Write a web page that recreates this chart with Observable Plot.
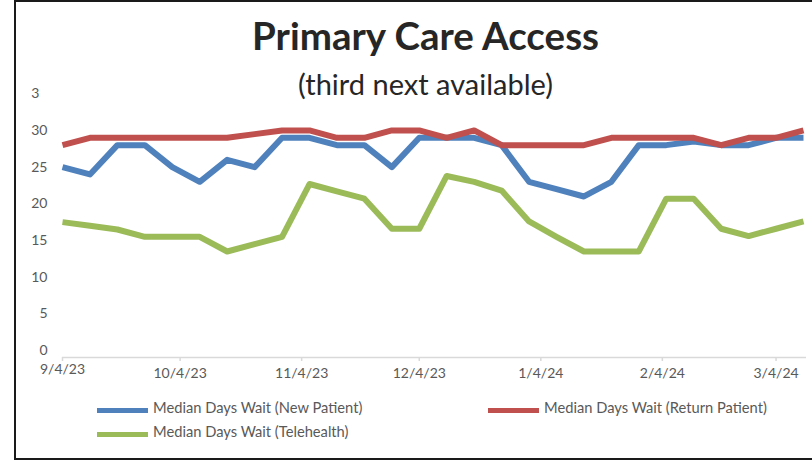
<!DOCTYPE html>
<html>
<head>
<meta charset="utf-8">
<script src="https://cdn.jsdelivr.net/npm/d3@7"></script>
<script src="https://cdn.jsdelivr.net/npm/@observablehq/plot@0.6"></script>
<style>
  html, body { margin: 0; padding: 0; background: #fff; }
  #wrap { position: relative; width: 812px; height: 461px; overflow: hidden; font-family: Lato, "Open Sans", sans-serif; }
  #border { position: absolute; left: 14px; top: 0px; width: 830px; height: 456px; border: 2px solid #1a1a1a; box-sizing: content-box; }
  #chart { position: absolute; left: 0; top: 0; }
  #titlebox { position: absolute; left: 39px; top: 3px; width: 773px; height: 103px; background: #fff; text-align: center; }
  #title { position: absolute; left: 0; right: 0; top: 13px; font-size: 38.5px; font-weight: 700; color: #262626; line-height: 1; }
  #subtitle { position: absolute; left: 0; right: 0; top: 66px; font-size: 29px; color: #262626; line-height: 1; }
  .leg { position: absolute; font-size: 14.7px; color: #595959; line-height: 1; white-space: nowrap; }
  .sw { position: absolute; width: 51px; height: 5px; }
</style>
</head>
<body>
<div id="wrap">
  <div id="border"></div>
  <div id="chart"></div>
  <div id="titlebox">
    <div id="title">Primary Care Access</div>
    <div id="subtitle">(third next available)</div>
  </div>
  <div id="legend"></div>
</div>
<script>
// ---- data ----
const dates = ["2023-09-04","2023-09-11","2023-09-18","2023-09-25","2023-10-02","2023-10-09","2023-10-16","2023-10-23","2023-10-30","2023-11-06","2023-11-13","2023-11-20","2023-11-27","2023-12-04","2023-12-11","2023-12-18","2023-12-25","2024-01-01","2024-01-08","2024-01-15","2024-01-22","2024-01-29","2024-02-05","2024-02-12","2024-02-19","2024-02-26","2024-03-04","2024-03-11"];
const newPatient    = [25, 24, 28, 28, 25, 23, 26, 25, 29, 29, 28, 28, 25, 29, 29, 29, 28, 23, 22, 21, 23, 28, 28, 28.5, 28, 28, 29, 29];
const returnPatient = [28, 29, 29, 29, 29, 29, 29, 29.5, 30, 30, 29, 29, 30, 30, 29, 30, 28, 28, 28, 28, 29, 29, 29, 29, 28, 29, 29, 30];
const telehealth    = [17.5, 17, 16.5, 15.5, 15.5, 15.5, 13.5, 14.5, 15.5, 22.7, 21.7, 20.7, 16.6, 16.6, 23.8, 23, 21.8, 17.6, 15.5, 13.5, 13.5, 13.5, 20.7, 20.7, 16.6, 15.6, 16.6, 17.6];
const seriesNames = ["Median Days Wait (New Patient)", "Median Days Wait (Return Patient)", "Median Days Wait (Telehealth)"];
const seriesColors = ["#4f81bd", "#c0504d", "#9bbb59"];
const xTickDates = ["2023-09-04","2023-10-04","2023-11-04","2023-12-04","2024-01-04","2024-02-04","2024-03-04"];
const xTickLabels = ["9/4/23","10/4/23","11/4/23","12/4/23","1/4/24","2/4/24","3/4/24"];
const yTicks = [0, 5, 10, 15, 20, 25, 30, 35];

// ---- build ----
const parse = d3.utcParse("%Y-%m-%d");
const allValues = [newPatient, returnPatient, telehealth];
const rows = [];
allValues.forEach((vals, s) => vals.forEach((v, i) => rows.push({date: parse(dates[i]), value: v, series: seriesNames[s]})));
const ticks = xTickDates.map((d, i) => ({date: parse(d), label: xTickLabels[i]}));
const yMin = -0.955;

const plot = Plot.plot({
  width: 812,
  height: 400,
  marginLeft: 62,
  marginRight: 9,
  marginTop: 93.3,
  marginBottom: 43,
  style: {fontFamily: "Lato, 'Open Sans', sans-serif", fontSize: "14px", color: "#595959", background: "transparent", overflow: "visible"},
  x: {type: "utc", domain: [parse(dates[0]), parse(dates[dates.length - 1])], label: null},
  y: {domain: [yMin, 35], label: null},
  color: {domain: seriesNames, range: seriesColors},
  marks: [
    Plot.axisY(yTicks, {tickSize: 0, tickPadding: 15, fontSize: 14, fill: "#595959", label: null}),
    Plot.ruleY([yMin], {stroke: "#d9d9d9", strokeWidth: 1.5, insetRight: -3}),
    Plot.axisX(ticks.map(t => t.date), {tickSize: 4, stroke: "#d9d9d9", strokeWidth: 1.5, tickFormat: () => "", label: null}),
    Plot.text(ticks.slice(1), {x: "date", text: "label", frameAnchor: "bottom", dy: 20, fontSize: 14, fill: "#595959"}),
    Plot.text(ticks.slice(0, 1), {x: "date", text: "label", frameAnchor: "bottom", dy: 16, fontSize: 14, fill: "#595959"}),
    Plot.line(rows, {x: "date", y: "value", z: "series", stroke: "series", strokeWidth: 6, strokeLinejoin: "round", strokeLinecap: "butt"})
  ]
});
document.getElementById("chart").appendChild(plot);

// legend
const legend = document.getElementById("legend");
const legPos = [{x: 97, y: 408}, {x: 488, y: 408}, {x: 97, y: 432}];
seriesNames.forEach((name, i) => {
  const sw = document.createElement("div");
  sw.className = "sw";
  sw.style.left = legPos[i].x + "px";
  sw.style.top = (legPos[i].y - 0.5) + "px";
  sw.style.background = seriesColors[i];
  legend.appendChild(sw);
  const t = document.createElement("div");
  t.className = "leg";
  t.textContent = name;
  t.style.left = (legPos[i].x + 56) + "px";
  t.style.top = (legPos[i].y - 8) + "px";
  legend.appendChild(t);
});
</script>
</body>
</html>
